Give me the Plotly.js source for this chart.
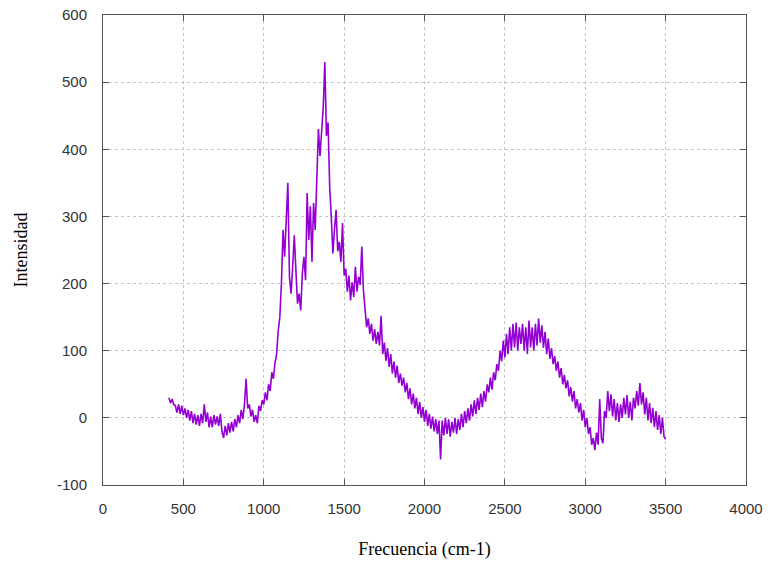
<!DOCTYPE html>
<html>
<head>
<meta charset="utf-8">
<script src="https://cdn.plot.ly/plotly-3.0.1.min.js"></script>
<style>html,body{margin:0;padding:0;background:#fff;}#chart{width:770px;height:567px;}</style>
</head>
<body>
<div id="chart"></div>
<script>
// Frequency start / step (cm-1) and intensity values
const freqStart = 410;
const freqStep = 10;
const intensidad = [
  30, 22, 28, 20, 18, 8, 20, 6, 18, 4,
  14, 0, 12, -4, 10, -8, 6, -10, 4, -12,
  6, -8, 20, -6, 8, -14, 2, -14, 4, -10,
  2, -12, 6, -20, -30, -12, -26, -8, -22, -6,
  -20, -2, -14, 4, -8, 12, -2, 20, 58, 14,
  20, 2, 12, -6, 4, -8, 18, 10, 26, 20,
  38, 26, 50, 40, 68, 58, 82, 95, 130, 150,
  200, 280, 240, 290, 350, 210, 185, 225, 272, 220,
  170, 185, 160, 215, 240, 205, 335, 265, 315, 232,
  320, 280, 360, 430, 390, 425, 462, 530, 420, 440,
  345, 300, 245, 280, 310, 248, 262, 232, 290, 212,
  222, 188, 212, 175, 202, 180, 225, 188, 210, 198,
  255, 190, 162, 135, 148, 125, 140, 115, 132, 110,
  128, 108, 152, 95, 112, 85, 104, 76, 95, 66,
  84, 60, 78, 52, 66, 48, 60, 38, 52, 28,
  44, 20, 36, 14, 30, 6, 24, 0, 16, -6,
  12, -12, 6, -16, 2, -20, -2, -24, -4, -62,
  -4, -26, 0, -24, -2, -28, -6, -22, 0, -24,
  -2, -18, 6, -14, 10, -8, 14, -4, 20, 2,
  26, 6, 30, 12, 36, 16, 40, 24, 50, 38,
  60, 42, 68, 56, 80, 70, 100, 84, 115, 90,
  125, 95, 135, 100, 140, 105, 142, 100, 135, 110,
  140, 100, 135, 95, 145, 105, 135, 100, 140, 108,
  148, 112, 138, 104, 128, 95, 118, 88, 104, 80,
  92, 70, 84, 60, 74, 50, 64, 44, 56, 32,
  46, 24, 40, 14, 28, 8, 22, -4, 12, -14,
  0, -24, -14, -40, -30, -48, -22, -40, 28, -30,
  -38, 10, 0, 40, 10, 35, 2, 28, -4, 22,
  -6, 20, 0, 30, 5, 34, 0, 24, -4, 30,
  14, 40, 18, 52, 20, 38, 5, 30, -4, 22,
  -8, 15, -14, 10, -18, 4, -24, 0, -28, -32
];
const frecuencia = intensidad.map((_, i) => freqStart + i * freqStep);
const xTicks = [0, 500, 1000, 1500, 2000, 2500, 3000, 3500, 4000];
const yTicks = [-100, 0, 100, 200, 300, 400, 500, 600];

const trace = {
  x: frecuencia,
  y: intensidad,
  type: 'scatter',
  mode: 'lines',
  line: {color: '#9400D3', width: 1.6},
  hoverinfo: 'skip'
};

const axisCommon = {
  showline: true,
  linecolor: '#555555',
  linewidth: 1,
  mirror: 'ticks',
  ticks: 'inside',
  ticklen: 6,
  tickcolor: '#555555',
  showgrid: true,
  gridcolor: '#c4c4c4',
  griddash: 'dot',
  gridwidth: 1,
  zeroline: false,
  tickfont: {family: 'Liberation Sans, Arial, sans-serif', size: 15, color: '#333333'}
};

const layout = {
  width: 770,
  height: 567,
  margin: {l: 103, r: 24, t: 15, b: 82},
  paper_bgcolor: '#ffffff',
  plot_bgcolor: '#ffffff',
  showlegend: false,
  xaxis: Object.assign({}, axisCommon, {
    range: [0, 4000],
    tickvals: xTicks,
    ticktext: xTicks.map(String),
    ticklabelstandoff: 10,
    title: {text: 'Frecuencia (cm-1)', font: {family: 'Liberation Serif, Times New Roman, serif', size: 18, color: '#000000'}, standoff: 26}
  }),
  yaxis: Object.assign({}, axisCommon, {
    range: [-100, 600],
    tickvals: yTicks,
    ticktext: yTicks.map(String),
    ticklabelstandoff: 12,
    title: {text: 'Intensidad', font: {family: 'Liberation Serif, Times New Roman, serif', size: 18, color: '#000000'}, standoff: 24}
  })
};

Plotly.newPlot('chart', [trace], layout, {displayModeBar: false, staticPlot: true});
</script>
</body>
</html>
